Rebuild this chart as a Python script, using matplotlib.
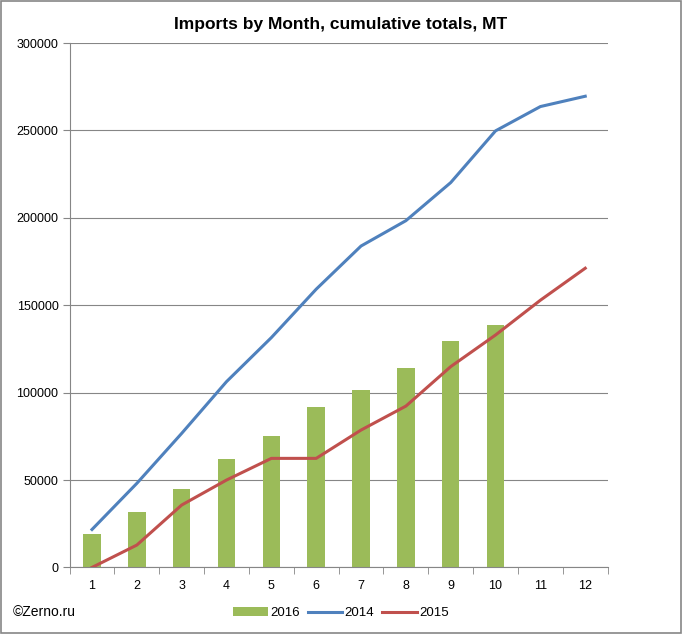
import matplotlib
matplotlib.use("Agg")
import matplotlib.pyplot as plt
import numpy as np
from matplotlib.patches import Rectangle

months = [1, 2, 3, 4, 5, 6, 7, 8, 9, 10, 11, 12]
imports_2016 = [18900, 31500, 44700, 61800, 75200, 91600, 101300, 113900, 129600, 138500]
imports_2014 = [21700, 48100, 76700, 106300, 131500, 159200, 183900, 198400, 220200, 249800, 263700, 269600]
imports_2015 = [0, 12800, 35700, 50000, 62400, 62400, 78600, 92300, 114900, 133000, 152900, 171200]

plt.rcParams['font.family'] = ['Liberation Sans', 'DejaVu Sans']

fig = plt.figure(figsize=(6.82, 6.34), dpi=100)
ax = fig.add_axes([0.102, 0.105, 0.789, 0.827])

b16 = ax.bar(months[:len(imports_2016)], imports_2016, width=0.39, color="#9BBB59", label="2016", zorder=2)
l14, = ax.plot(months, imports_2014, color="#4F81BD", lw=2.2, label="2014", zorder=3)
l15, = ax.plot(months, imports_2015, color="#C0504D", lw=2.2, label="2015", zorder=3)

ax.set_xlim(0.5, 12.5)
ax.set_ylim(0, 300000)
ax.set_yticks(np.arange(0, 300001, 50000))
ax.yaxis.grid(True, color="#868686", lw=0.8)
ax.set_axisbelow(True)
ax.set_xticks(months)
ax.set_xticks(np.arange(0.5, 13, 1), minor=True)
ax.tick_params(axis="x", which="major", length=0, labelsize=9, pad=9)
ax.tick_params(axis="x", which="minor", length=5, color="#868686", direction="out")
ax.tick_params(axis="y", length=5, color="#868686", labelsize=9, pad=3)
for s in ["top", "right"]:
    ax.spines[s].set_visible(False)
ax.spines["left"].set_color("#868686")
ax.spines["bottom"].set_color("#868686")

fig.suptitle("Imports by Month, cumulative totals, MT", y=0.973, fontsize=12.5, fontweight="bold")
fig.text(0.018, 0.028, "\u00a9Zerno.ru", fontsize=10)

ax.legend([b16, l14, l15], ["2016", "2014", "2015"], loc="center",
          bbox_to_anchor=(0.5, 0.033), bbox_transform=fig.transFigure,
          ncol=3, frameon=False, fontsize=9.5, handlelength=2.6, handletextpad=0.2,
          columnspacing=0.6)

fig.patches.append(Rectangle((0.001, 0.001), 0.997, 0.997, transform=fig.transFigure,
                             fill=False, edgecolor="#868686", lw=1.2))

fig.savefig("out.png", dpi=100)
